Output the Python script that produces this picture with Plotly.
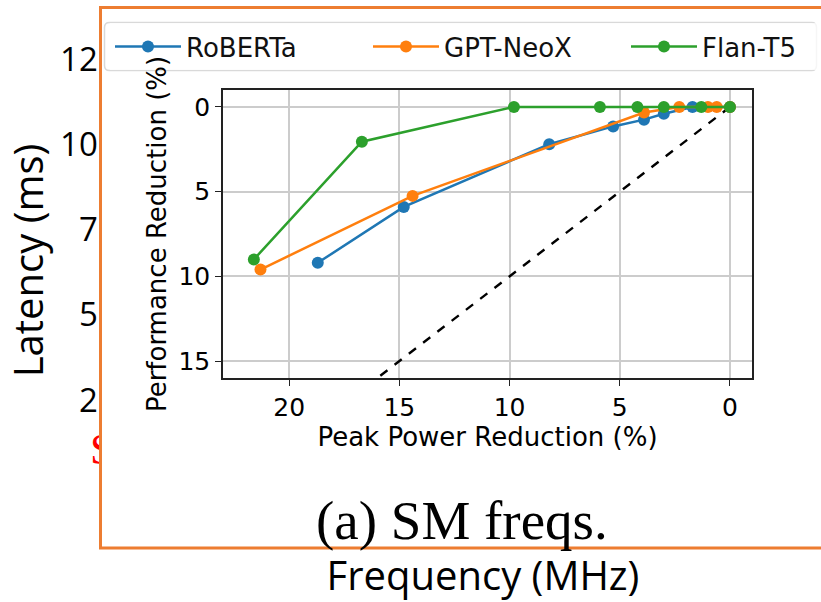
import plotly.graph_objects as go

W, H = 821, 602

# ---- inner chart data (Peak Power Reduction vs Performance Reduction) ----
roberta_x = [18.7, 14.8, 8.2, 5.3, 3.9, 3.0, 1.7, 0.0]
roberta_y = [9.2, 5.9, 2.2, 1.15, 0.75, 0.4, 0.0, 0.0]
gptneox_x = [21.3, 14.4, 3.9, 2.3, 1.0, 0.6, 0.0]
gptneox_y = [9.6, 5.25, 0.33, 0.0, 0.0, 0.0, 0.0]
flant5_x = [21.6, 16.7, 9.8, 5.9, 4.2, 3.0, 1.3, 0.0]
flant5_y = [9.0, 2.05, 0.0, 0.0, 0.0, 0.0, 0.0, 0.0]
parity_x = [0.0, 25.0]
parity_y = [0.0, 25.0]
inner_x_ticks = [0, 5, 10, 15, 20]
inner_y_ticks = [0, 5, 10, 15]

# ---- outer chart (mostly hidden behind the framed panel) ----
outer_y_ticks = [2.5, 5.0, 7.5, 10.0, 12.5]
outer_x_range = [600, 2000]
outer_y_range = [0, 13.2]
red_label_x = [0.2]
red_label_y = [0.44]
red_label_text = ["SLO"]

COLORS = ["#1f77b4", "#ff7f0e", "#2ca02c"]
ORANGE = "#ED7D31"
SANS = "DejaVu Sans"

def px(v):
    return v / W

def py(v):
    return (H - v) / H

fig = go.Figure()

# subplot 1 (x/y): outer latency-vs-frequency chart, axes only visible at the edges
fig.add_trace(go.Scatter(x=[None], y=[None], xaxis="x", yaxis="y",
                         showlegend=False, hoverinfo="skip"))

# subplot 2: red label of the outer chart (partly hidden by the panel)
fig.add_trace(go.Scatter(
    x=red_label_x, y=red_label_y, text=red_label_text, mode="text",
    textposition="middle right", cliponaxis=False,
    textfont=dict(family="Liberation Serif", size=44, color="red"),
    showlegend=False, hoverinfo="skip", xaxis="x2", yaxis="y2"))

# subplot 3: panel (white fill, orange frame) in pixel coordinates
fig.add_trace(go.Scatter(x=[None], y=[None], xaxis="x3", yaxis="y3",
                         showlegend=False, hoverinfo="skip"))

# subplot 4: inner chart
fig.add_trace(go.Scatter(
    x=parity_x, y=parity_y, mode="lines",
    line=dict(color="black", width=2.4, dash="dash"),
    showlegend=False, hoverinfo="skip", xaxis="x4", yaxis="y4"))
for name, xs, ys, c in [("RoBERTa", roberta_x, roberta_y, COLORS[0]),
                        ("GPT-NeoX", gptneox_x, gptneox_y, COLORS[1]),
                        ("Flan-T5", flant5_x, flant5_y, COLORS[2])]:
    fig.add_trace(go.Scatter(
        x=xs, y=ys, mode="lines+markers", name=name,
        line=dict(color=c, width=2.5), marker=dict(color=c, size=12),
        xaxis="x4", yaxis="y4"))

# panel frame
fig.add_shape(type="rect", xref="x3", yref="y3", x0=100.5, x1=845, y0=7.5, y1=548,
              fillcolor="white", line=dict(color=ORANGE, width=3), layer="between")
# legend frame (rounded)
lx0, lx1, ly0, ly1, r = 104.5, 816.5, 22.5, 70.5, 5
legend_path = (f"M {lx0+r},{ly0} L {lx1-r},{ly0} Q {lx1},{ly0} {lx1},{ly0+r} "
               f"L {lx1},{ly1-r} Q {lx1},{ly1} {lx1-r},{ly1} L {lx0+r},{ly1} "
               f"Q {lx0},{ly1} {lx0},{ly1-r} L {lx0},{ly0+r} Q {lx0},{ly0} {lx0+r},{ly0} Z")
fig.add_shape(type="path", path=legend_path, xref="x3", yref="y3",
              fillcolor="white", line=dict(color="#d9d9d9", width=1.5), layer="between")

fig.add_annotation(text="(a) SM freqs.", x=px(461.5), y=py(520), xref="paper", yref="paper",
                   xanchor="center", yanchor="middle", showarrow=False,
                   font=dict(family="Liberation Serif", size=55, color="black"))

hidden = dict(visible=False, fixedrange=True, automargin=False)

fig.update_layout(
    width=W, height=H, autosize=False,
    margin=dict(l=0, r=0, t=0, b=0, pad=0, autoexpand=False),
    paper_bgcolor="white", plot_bgcolor="white",
    font=dict(family="Open Sans", color="black"),
    xaxis=dict(domain=[px(145), 1.0], range=outer_x_range, anchor="y", automargin=False,
               showgrid=False, zeroline=False, ticks="outside", ticklen=8,
               showticklabels=False,
               title=dict(text="Frequency (MHz)", font=dict(size=40, family="Open Sans"),
                          standoff=69)),
    yaxis=dict(domain=[py(485), py(36)], range=outer_y_range, anchor="x", automargin=False,
               tickvals=outer_y_ticks, tickformat=".1f",
               showgrid=False, zeroline=False, ticks="outside", ticklen=12,
               tickfont=dict(size=33, family="Open Sans"),
               title=dict(text="Latency (ms)", font=dict(size=40, family="Open Sans"),
                          standoff=10)),
    xaxis2=dict(domain=[px(80), px(130)], range=[0, 1], anchor="y2", **hidden),
    yaxis2=dict(domain=[py(475), py(425)], range=[0, 1], anchor="x2", **hidden),
    xaxis3=dict(domain=[px(99), 1.0], range=[99, W], anchor="y3", **hidden),
    yaxis3=dict(domain=[0.0, 1.0], range=[H, 0], anchor="x3", **hidden),
    xaxis4=dict(domain=[px(223), px(752)], range=[23, -1], anchor="y4", automargin=False,
                tickvals=inner_x_ticks, showgrid=True, gridcolor="#cccccc", gridwidth=1.5,
                zeroline=False, showline=True, mirror=True, linecolor="#222222", linewidth=1.5,
                ticks="outside", ticklen=6, tickcolor="#222222",
                tickfont=dict(family=SANS, size=25),
                title=dict(text="Peak Power Reduction (%)", font=dict(family=SANS, size=26),
                           standoff=6)),
    yaxis4=dict(domain=[py(378), py(90)], range=[16, -1], anchor="x4", automargin=False,
                tickvals=inner_y_ticks, showgrid=True, gridcolor="#cccccc", gridwidth=1.5,
                zeroline=False, showline=True, mirror=True, linecolor="#222222", linewidth=1.5,
                ticks="outside", ticklen=6, tickcolor="#222222",
                tickfont=dict(family=SANS, size=25),
                title=dict(text="Performance Reduction (%)", font=dict(family=SANS, size=26),
                           standoff=4)),
    legend=dict(orientation="h", x=px(110), y=py(23), xanchor="left", yanchor="top",
                bgcolor="rgba(255,255,255,0.75)", borderwidth=0,
                font=dict(family=SANS, size=26, color="#111111"),
                itemwidth=66, entrywidth=177, entrywidthmode="pixels"),
    showlegend=True,
)

fig.write_html("out.html")
